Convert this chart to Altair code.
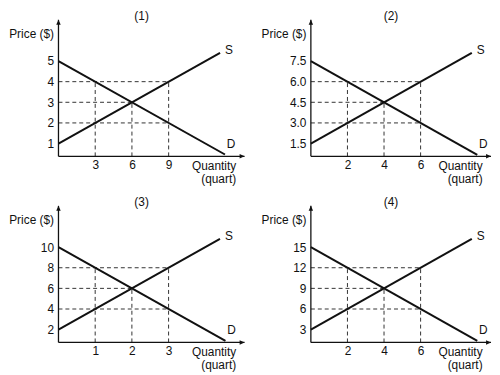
import altair as alt
import pandas as pd

FONT = "Liberation Sans"

titles = ["(1)", "(2)", "(3)", "(4)"]
q_ticks = [[3, 6, 9], [2, 4, 6], [1, 2, 3], [2, 4, 6]]
p_ticks = [[1, 2, 3, 4, 5], [1.5, 3.0, 4.5, 6.0, 7.5], [2, 4, 6, 8, 10], [3, 6, 9, 12, 15]]
p_format = ["d", ".1f", "d", "d"]
# dashed guide levels: prices (high, equilibrium, low) and quantities (low, equilibrium, high)
p_levels = [[4, 3, 2], [6.0, 4.5, 3.0], [8, 6, 4], [12, 9, 6]]
q_levels = [[3, 6, 9], [2, 4, 6], [1, 2, 3], [2, 4, 6]]
# demand / supply end points
demand_q = [[0, 13.6], [0, 9.1], [0, 4.55], [0, 9.1]]
demand_p = [[5, 0.47], [7.5, 0.68], [10, 0.9], [15, 1.35]]
supply_q = [[0, 13.2], [0, 8.8], [0, 4.4], [0, 8.8]]
supply_p = [[1, 5.4], [1.5, 8.1], [2, 10.8], [3, 16.2]]
# axis extents (origin to arrow tip)
q_domain = [[0, 15.2], [0, 9.85], [0, 5.07], [0, 9.85]]
p_domain = [[0.38, 7.0], [0.57, 10.5], [0.76, 14.0], [1.14, 21.0]]

widths = [188, 182]
H = 138
INK = "#111111"


def panel(i):
    W = widths[i % 2]
    qmin, qmax = q_domain[i]
    pmin, pmax = p_domain[i]
    xs = alt.Scale(domain=[qmin, qmax], nice=False, zero=False)
    ys = alt.Scale(domain=[pmin, pmax], nice=False, zero=False)
    xaxis = alt.Axis(values=q_ticks[i], domain=False, ticks=False, grid=False,
                     labelPadding=3, labelOverlap=False, labelFlush=False,
                     title=["Quantity", "(quart)"], titleAlign="right",
                     titleBaseline="top", titleX=W - 9, titleY=4,
                     titleLineHeight=13, titleFontWeight="normal")
    yaxis = alt.Axis(values=p_ticks[i], format=p_format[i], domain=False, ticks=False,
                     grid=False, labelPadding=5, labelOverlap=False, labelFlush=False,
                     title="Price ($)", titleAngle=0, titleAlign="right",
                     titleBaseline="middle", titleX=-5, titleY=14,
                     titleFontWeight="normal")

    def X(f):
        return alt.X(f, type="quantitative", scale=xs, axis=xaxis)

    def Y(f):
        return alt.Y(f, type="quantitative", scale=ys, axis=yaxis)

    hi, eq, lo = p_levels[i]
    ql, qe, qh = q_levels[i]
    guides = pd.DataFrame({
        "x": [0, 0, 0, ql, qe, qh],
        "x2": [qh, qe, qh, ql, qe, qh],
        "y": [hi, eq, lo, pmin, pmin, pmin],
        "y2": [hi, eq, lo, hi, eq, hi],
    })
    axes = pd.DataFrame({"x": [0, 0], "x2": [qmax, 0], "y": [pmin, pmin], "y2": [pmin, pmax]})
    curves = pd.DataFrame({
        "q": demand_q[i] + supply_q[i],
        "p": demand_p[i] + supply_p[i],
        "curve": ["D", "D", "S", "S"],
    })
    dlab = pd.DataFrame({"q": [demand_q[i][1]], "p": [demand_p[i][1]], "t": ["D"]})
    slab = pd.DataFrame({"q": [supply_q[i][1]], "p": [supply_p[i][1]], "t": ["S"]})
    xarr = pd.DataFrame({"q": [qmax], "p": [pmin]})
    yarr = pd.DataFrame({"q": [0], "p": [pmax]})

    g = alt.Chart(guides).mark_rule(strokeDash=[4, 3], strokeWidth=1, color="#333333").encode(
        x=X("x"), x2=alt.X2("x2"), y=Y("y"), y2=alt.Y2("y2"))
    a = alt.Chart(axes).mark_rule(strokeWidth=1.3, color=INK).encode(
        x=X("x"), x2=alt.X2("x2"), y=Y("y"), y2=alt.Y2("y2"))
    c = alt.Chart(curves).mark_line(strokeWidth=2, color=INK).encode(
        x=X("q"), y=Y("p"), detail="curve:N")
    td = alt.Chart(dlab).mark_text(dx=6, dy=-11, fontSize=12, color=INK).encode(
        x=X("q"), y=Y("p"), text="t:N")
    ts = alt.Chart(slab).mark_text(dx=9, dy=-3, fontSize=12, color=INK).encode(
        x=X("q"), y=Y("p"), text="t:N")
    ax = alt.Chart(xarr).mark_point(shape="M0,0L-2,-0.9L-2,0.9Z", size=25, filled=True,
                                    opacity=1, color=INK, strokeWidth=0).encode(x=X("q"), y=Y("p"))
    ay = alt.Chart(yarr).mark_point(shape="M0,0L-0.9,2L0.9,2Z", size=25, filled=True,
                                    opacity=1, color=INK, strokeWidth=0).encode(x=X("q"), y=Y("p"))

    return alt.layer(g, a, c, td, ts, ax, ay).properties(
        width=W, height=H,
        title=alt.TitleParams(text=titles[i], frame="group", anchor="middle", dx=-10,
                              offset=-4, fontSize=12, fontWeight="normal", font=FONT,
                              color=INK),
    )


chart = alt.concat(*[panel(i) for i in range(4)], columns=2,
                   spacing=alt.RowColnumber(row=50, column=67), bounds="flush").properties(
    padding=0
).configure_view(stroke=None).configure_axis(
    labelFont=FONT, titleFont=FONT, labelFontSize=12, titleFontSize=12,
    labelColor=INK, titleColor=INK
).configure_text(font=FONT)

chart.save("out.html", embed_options={"renderer": "svg", "actions": False})
